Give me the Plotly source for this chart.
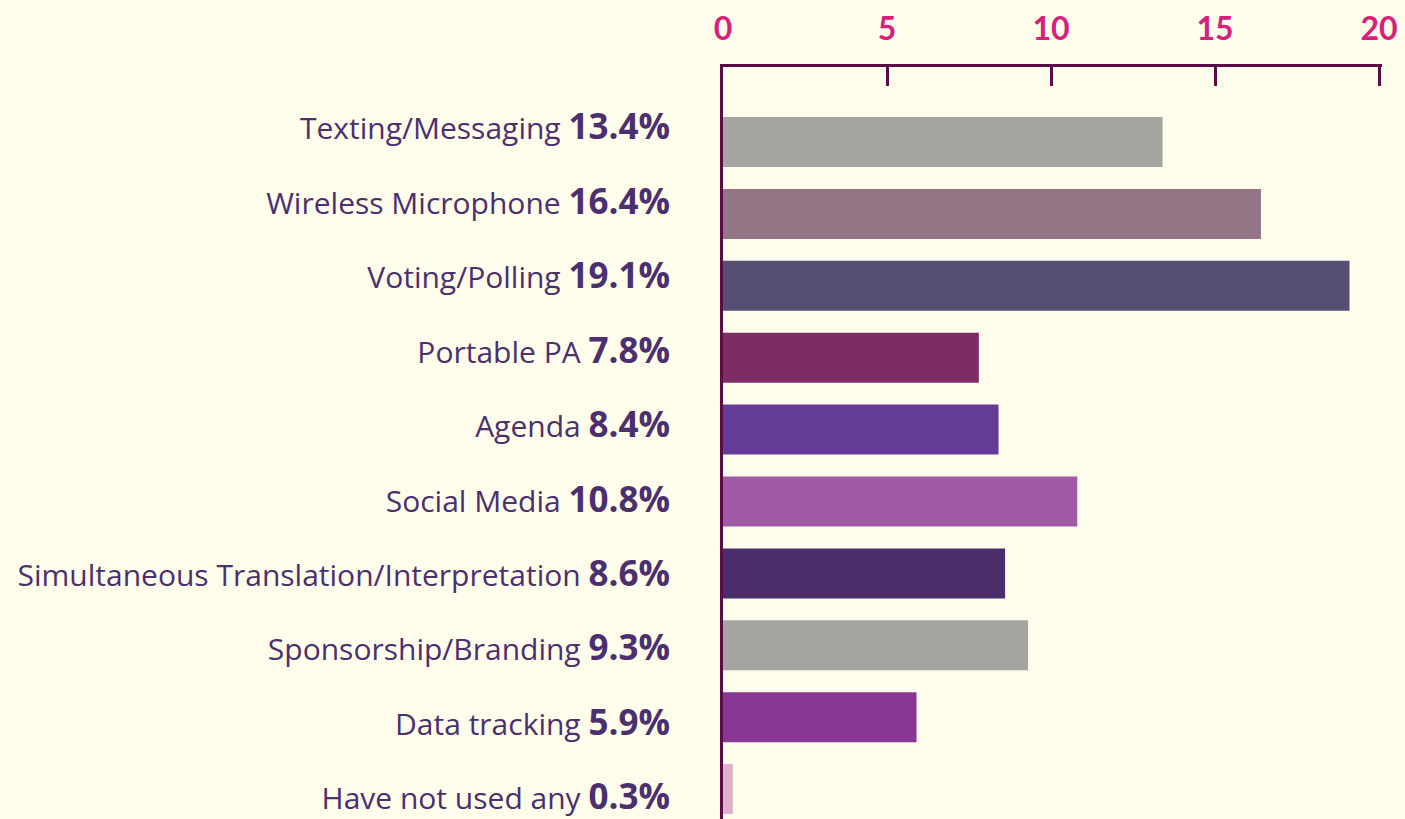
import plotly.graph_objects as go

categories = ["Texting/Messaging", "Wireless Microphone", "Voting/Polling", "Portable PA",
              "Agenda", "Social Media", "Simultaneous Translation/Interpretation",
              "Sponsorship/Branding", "Data tracking", "Have not used any"]
values = [13.4, 16.4, 19.1, 7.8, 8.4, 10.8, 8.6, 9.3, 5.9, 0.3]
colors = ["#a4a5a1", "#947586", "#554f73", "#7e2c66", "#643b97", "#a15ba4",
          "#4a2d6a", "#a4a5a1", "#883893", "#ddb3cc"]
x_ticks = [0, 5, 10, 15, 20]

BG = "#fefdeb"
AXIS = "#5c0b47"
TXT = "#4b2f6e"
PINK = "#d6207c"
FONT = "Open Sans"

labels = [f"{c} <span style='font-size:35px'><b>{v}%</b></span>" for c, v in zip(categories, values)]

fig = go.Figure()
fig.add_trace(go.Bar(x=values, y=categories, orientation="h", width=0.695,
                     marker=dict(color=colors, line=dict(width=0)), showlegend=False,
                     hoverinfo="x+y"))
fig.add_trace(go.Scatter(x=values, y=categories, yaxis="y2", mode="markers",
                         marker=dict(opacity=0), showlegend=False, hoverinfo="skip"))

fig.update_layout(
    width=1405, height=819,
    margin=dict(l=723, r=23, t=67, b=0),
    paper_bgcolor=BG, plot_bgcolor=BG,
    font=dict(family=FONT, color=TXT),
    xaxis=dict(side="top", range=[0, 20.09], tickvals=x_ticks, ticks="inside", ticklen=19,
               tickwidth=3, tickcolor=AXIS, showline=True, linecolor=AXIS, linewidth=3,
               showgrid=False, zeroline=False, ticklabelstandoff=11,
               tickfont=dict(color=PINK, size=32, family="Lato", weight="bold")),
    yaxis=dict(type="category", categoryorder="array", categoryarray=categories,
               range=[9.416, -1.043], showticklabels=False, showline=True,
               linecolor=AXIS, linewidth=3, showgrid=False, zeroline=False, ticks=""),
    yaxis2=dict(type="category", categoryorder="array", categoryarray=categories,
                overlaying="y", side="left", range=[9.274, -0.833],
                tickvals=categories, ticktext=labels, ticks="", ticklabelstandoff=52,
                showline=False, showgrid=False, zeroline=False,
                tickfont=dict(size=30, color=TXT, family=FONT)),
)

fig.write_html("out.html", config={"displayModeBar": False},
               post_script="document.body.style.margin='0';document.body.style.overflow='hidden';")
